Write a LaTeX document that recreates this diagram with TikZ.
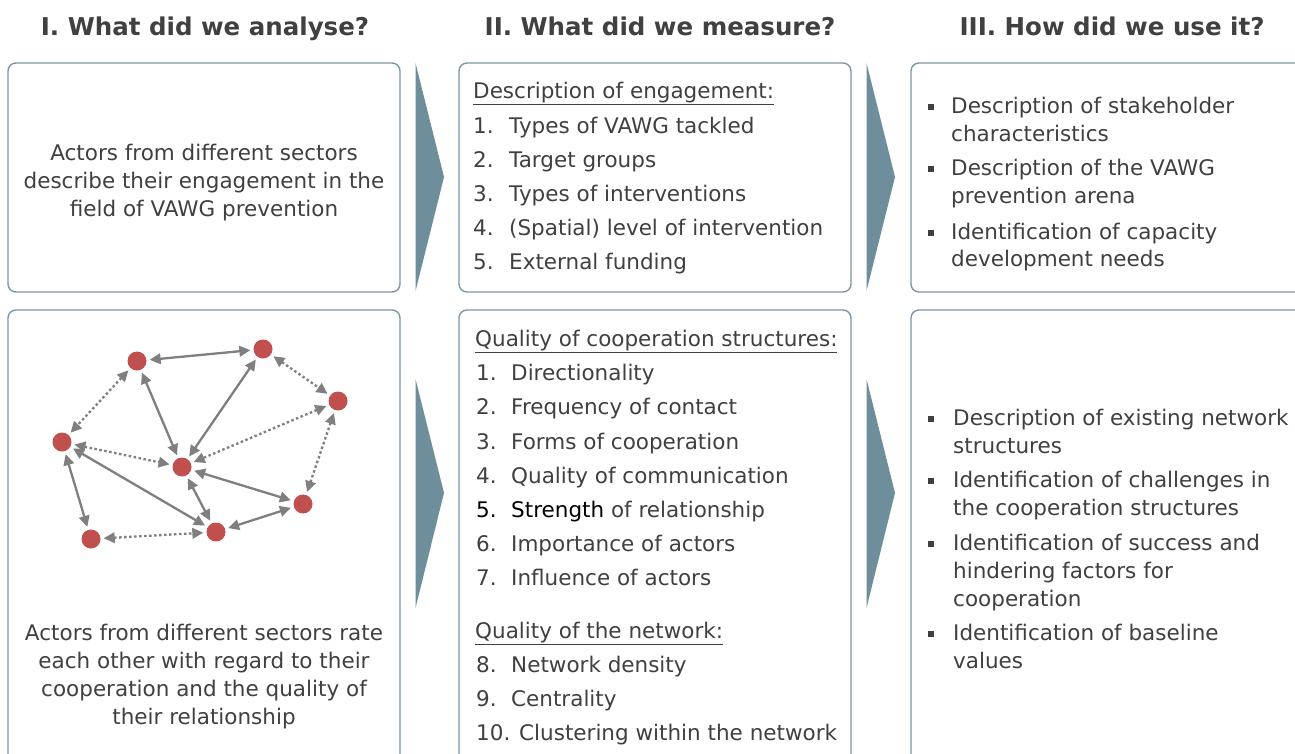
\documentclass[tikz,border=0pt]{standalone}
\usepackage{fontspec}
\setmainfont{DejaVu Sans}
\usetikzlibrary{arrows.meta}
\definecolor{txt}{RGB}{64,64,64}
\definecolor{boxc}{RGB}{122,152,168}
\definecolor{tri}{RGB}{111,142,155}
\definecolor{nodered}{RGB}{192,80,77}
\definecolor{edgec}{RGB}{127,127,127}
\tikzset{
  panel/.style={draw=boxc, line width=1.4pt, rounded corners=8pt, fill=white, inner sep=0pt},
  hdr/.style={font=\fontsize{24.5}{28}\selectfont\bfseries, text=txt, inner sep=0pt, anchor=base},
  lbl/.style={font=\fontsize{21.5}{28}\selectfont, text=txt, inner sep=0pt, anchor=mid west, yshift=-5pt},
  para/.style={font=\fontsize{21.5}{28}\selectfont, text=txt, inner sep=0pt, align=center},
  bul/.style={fill=txt, minimum size=6pt, inner sep=0pt, shape=rectangle},
  actor/.style={circle, fill=nodered, minimum size=19pt, inner sep=0pt},
  link/.style={draw=edgec, line width=2.3pt, {Triangle[length=11pt,width=10.5pt]}-{Triangle[length=11pt,width=10.5pt]}, shorten <=3pt, shorten >=3pt},
  weak/.style={link, dash pattern=on 2.5pt off 2.5pt}
}
\begin{document}
\begin{tikzpicture}[x=1pt,y=-1pt]
\useasboundingbox (0,0) rectangle (1295,753);
\clip (0,0) rectangle (1295,753);
\fill[white] (0,0) rectangle (1295,753);

% headers
\node[hdr] (h1) at (205,35) {I. What did we analyse?};
\node[hdr] (h2) at (660,35) {II. What did we measure?};
\node[hdr] (h3) at (1112,35) {III. How did we use it?};

% panels
\node[panel, minimum width=392pt, minimum height=229pt] (p11) at (204,177.5) {};
\node[panel, minimum width=392pt, minimum height=229pt] (p12) at (655,177.5) {};
\node[panel, minimum width=420pt, minimum height=229pt] (p13) at (1121,177.5) {};
\node[panel, minimum width=392pt, minimum height=460pt] (p21) at (204,540) {};
\node[panel, minimum width=392pt, minimum height=460pt] (p22) at (655,540) {};
\node[panel, minimum width=420pt, minimum height=460pt] (p23) at (1121,540) {};

% triangles
\fill[tri] (415.5,63) -- (444,177) -- (415.5,291) -- cycle;
\fill[tri] (866.5,63) -- (895,177) -- (866.5,291) -- cycle;
\fill[tri] (415.5,379) -- (444,493) -- (415.5,608) -- cycle;
\fill[tri] (866.5,379) -- (895,493) -- (866.5,608) -- cycle;

% left texts
\node[para] (t11) at (204,183) {Actors from different sectors\\describe their engagement in the\\field of VAWG prevention};
\node[para] (t21) at (204,677) {Actors from different sectors rate\\each other with regard to their\\cooperation and the quality of\\their relationship};

% network
\node[actor] (A) at (137,361) {};
\node[actor] (B) at (263,349) {};
\node[actor] (C) at (338,401) {};
\node[actor] (D) at (62,442) {};
\node[actor] (E) at (182,467) {};
\node[actor] (F) at (303,504) {};
\node[actor] (G) at (216,532) {};
\node[actor] (H) at (91,539) {};
\draw[link] (A) -- (B);
\draw[link] (A) -- (E);
\draw[link] (B) -- (E);
\draw[link] (D) -- (G);
\draw[link] (D) -- (H);
\draw[link] (E) -- (G);
\draw[link] (E) -- (F);
\draw[link] (G) -- (F);
\draw[weak] (A) -- (D);
\draw[weak] (B) -- (C);
\draw[weak] (C) -- (E);
\draw[weak] (C) -- (F);
\draw[weak] (D) -- (E);
\draw[weak] (H) -- (G);

% middle top
\node[lbl] (m0) at (473,91) {\underline{Description of engagement:}};
\node[lbl] (m1n) at (473,126) {1.}; \node[lbl] (m1) at (509,126) {Types of VAWG tackled};
\node[lbl] (m2n) at (473,160) {2.}; \node[lbl] (m2) at (509,160) {Target groups};
\node[lbl] (m3n) at (473,194) {3.}; \node[lbl] (m3) at (509,194) {Types of interventions};
\node[lbl] (m4n) at (473,228) {4.}; \node[lbl] (m4) at (509,228) {(Spatial) level of intervention};
\node[lbl] (m5n) at (473,262) {5.}; \node[lbl] (m5) at (509,262) {External funding};

% middle bottom
\node[lbl] (q0) at (475,339) {\underline{Quality of cooperation structures:}};
\node[lbl] (q1n) at (476,373) {1.}; \node[lbl] (q1) at (511,373) {Directionality};
\node[lbl] (q2n) at (476,407) {2.}; \node[lbl] (q2) at (511,407) {Frequency of contact};
\node[lbl] (q3n) at (476,442) {3.}; \node[lbl] (q3) at (511,442) {Forms of cooperation};
\node[lbl] (q4n) at (476,476) {4.}; \node[lbl] (q4) at (511,476) {Quality of communication};
\node[lbl, text=black] (q5n) at (476,510) {5.}; \node[lbl] (q5) at (511,510) {\textcolor{black}{Strength} of relationship};
\node[lbl] (q6n) at (476,544) {6.}; \node[lbl] (q6) at (511,544) {Importance of actors};
\node[lbl] (q7n) at (476,578) {7.}; \node[lbl] (q7) at (511,578) {Influence of actors};
\node[lbl] (n0) at (475,631) {\underline{Quality of the network:}};
\node[lbl] (q8n) at (476,665) {8.}; \node[lbl] (q8) at (511,665) {Network density};
\node[lbl] (q9n) at (476,699) {9.}; \node[lbl] (q9) at (511,699) {Centrality};
\node[lbl] (q10n) at (476,733) {10.}; \node[lbl] (q10) at (519,733) {Clustering within the network};

% right top
\node[bul] (r1b) at (931,107) {}; \node[lbl] (r1a) at (951,106) {Description of stakeholder};
\node[lbl] (r1c) at (951,134) {characteristics};
\node[bul] (r2b) at (931,169) {}; \node[lbl] (r2a) at (951,168) {Description of the VAWG};
\node[lbl] (r2c) at (951,196) {prevention arena};
\node[bul] (r3b) at (931,233) {}; \node[lbl] (r3a) at (951,232) {Identification of capacity};
\node[lbl] (r3c) at (951,259) {development needs};

% right bottom
\node[bul] (s1b) at (931,419) {}; \node[lbl] (s1a) at (953,418) {Description of existing network};
\node[lbl] (s1c) at (953,446) {structures};
\node[bul] (s2b) at (931,481) {}; \node[lbl] (s2a) at (953,480) {Identification of challenges in};
\node[lbl] (s2c) at (953,508) {the cooperation structures};
\node[bul] (s3b) at (931,544) {}; \node[lbl] (s3a) at (953,543) {Identification of success and};
\node[lbl] (s3c) at (953,571) {hindering factors for};
\node[lbl] (s3d) at (953,599) {cooperation};
\node[bul] (s4b) at (931,634) {}; \node[lbl] (s4a) at (953,633) {Identification of baseline};
\node[lbl] (s4c) at (953,661) {values};
\end{tikzpicture}
\end{document}
